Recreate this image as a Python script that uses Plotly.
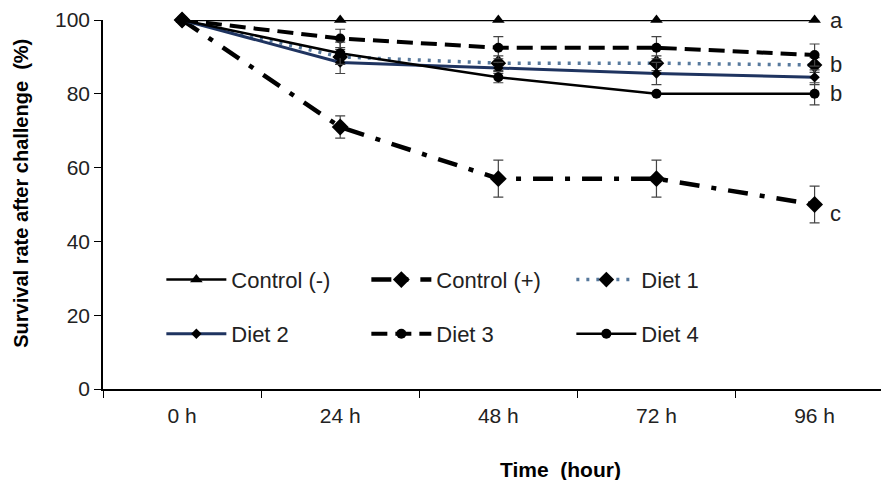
import plotly.graph_objects as go

# ---- data ----
time_labels = ["0 h", "24 h", "48 h", "72 h", "96 h"]
control_neg = [100, 100, 100, 100, 100]
control_pos = [100, 71, 57, 57, 50]
diet1 = [100, 90, 88.3, 88.3, 87.8]
diet2 = [100, 88.5, 87, 85.5, 84.5]
diet3 = [100, 95, 92.5, 92.5, 90.5]
diet4 = [100, 91, 84.5, 80, 80]

err_control_neg = [0, 0, 0, 0, 0]
err_control_pos = [0, 3, 5, 5, 5]
err_diet1 = [0, 2, 2, 2, 2]
err_diet2 = [0, 3, 1.5, 3, 2]
err_diet3 = [0, 2.5, 3, 3, 3]
err_diet4 = [0, 3, 1.5, 0, 3]

letters = ["a", "b", "b", "c"]
letter_y = [100, 88, 80, 47.5]

FONT = "Liberation Sans, Arial, sans-serif"

fig = go.Figure()

def add(name, y, err, color, dash, width, symbol, msize, legend):
    fig.add_trace(go.Scatter(
        x=time_labels, y=y, name=name, mode="lines+markers",
        line=dict(color=color, dash=dash, width=width),
        marker=dict(symbol=symbol, size=msize, color="black"),
        error_y=dict(type="data", array=err, visible=True, color="#444",
                     thickness=1.2, width=5),
        cliponaxis=False, legend=legend,
    ))

add("Control (-)", control_neg, err_control_neg, "black", "solid", 2.5, "triangle-up", 11, "legend")
add("Control (+)", control_pos, err_control_pos, "black", "20px,12px,5px,12px", 4.5, "diamond", 13, "legend")
add("Diet 1", diet1, err_diet1, "#56789c", "3px,7px", 3.5, "diamond", 12, "legend")
add("Diet 2", diet2, err_diet2, "#1f3460", "solid", 3, "diamond", 8, "legend2")
add("Diet 3", diet3, err_diet3, "black", "16px,8px", 4, "circle", 10, "legend2")
add("Diet 4", diet4, err_diet4, "black", "solid", 2.5, "circle", 10, "legend2")

for t, yv in zip(letters, letter_y):
    fig.add_annotation(x=4, y=yv, xref="x", yref="y", text=t, showarrow=False,
                       xshift=13, xanchor="left", font=dict(size=22, color="#222", family=FONT))

fig.add_annotation(x=(560 - 103) / 778, y=-0.217, xref="paper", yref="paper",
                   text="<b>Time  (hour)</b>", showarrow=False, yanchor="middle",
                   font=dict(size=21, color="black", family=FONT))
fig.add_annotation(x=-0.105, y=0.53, xref="paper", yref="paper", textangle=-90,
                   text="<b>Survival rate after challenge  (%)</b>", showarrow=False,
                   xanchor="center", yanchor="middle",
                   font=dict(size=20, color="black", family=FONT))

legend_common = dict(orientation="h", xanchor="left", yanchor="middle",
                     entrywidth=130, entrywidthmode="pixels", itemwidth=60,
                     bgcolor="rgba(0,0,0,0)", font=dict(size=22, color="#222", family=FONT))

fig.update_layout(
    width=881, height=480,
    margin=dict(l=103, r=0, t=20, b=91),
    paper_bgcolor="white", plot_bgcolor="white",
    font=dict(family=FONT, size=21, color="#222"),
    xaxis=dict(type="category", range=[-0.5, 4.42], tickson="boundaries",
               ticks="outside", ticklen=7, tickcolor="black", showline=True,
               linecolor="black", linewidth=1.5, showgrid=False, zeroline=False,
               ticklabelstandoff=7, tickfont=dict(size=21, color="#222")),
    yaxis=dict(range=[0, 100], tickvals=[0, 20, 40, 60, 80, 100], ticks="outside",
               ticklen=7, tickcolor="black", showline=True, linecolor="black",
               linewidth=1.5, showgrid=False, zeroline=False,
               tickfont=dict(size=21, color="#222")),
    legend=dict(x=0.075, y=0.296, **legend_common),
    legend2=dict(x=0.075, y=0.149, **legend_common),
)

fig.write_html("out.html", config={"displayModeBar": False},
               post_script="document.body.style.margin='0';")
